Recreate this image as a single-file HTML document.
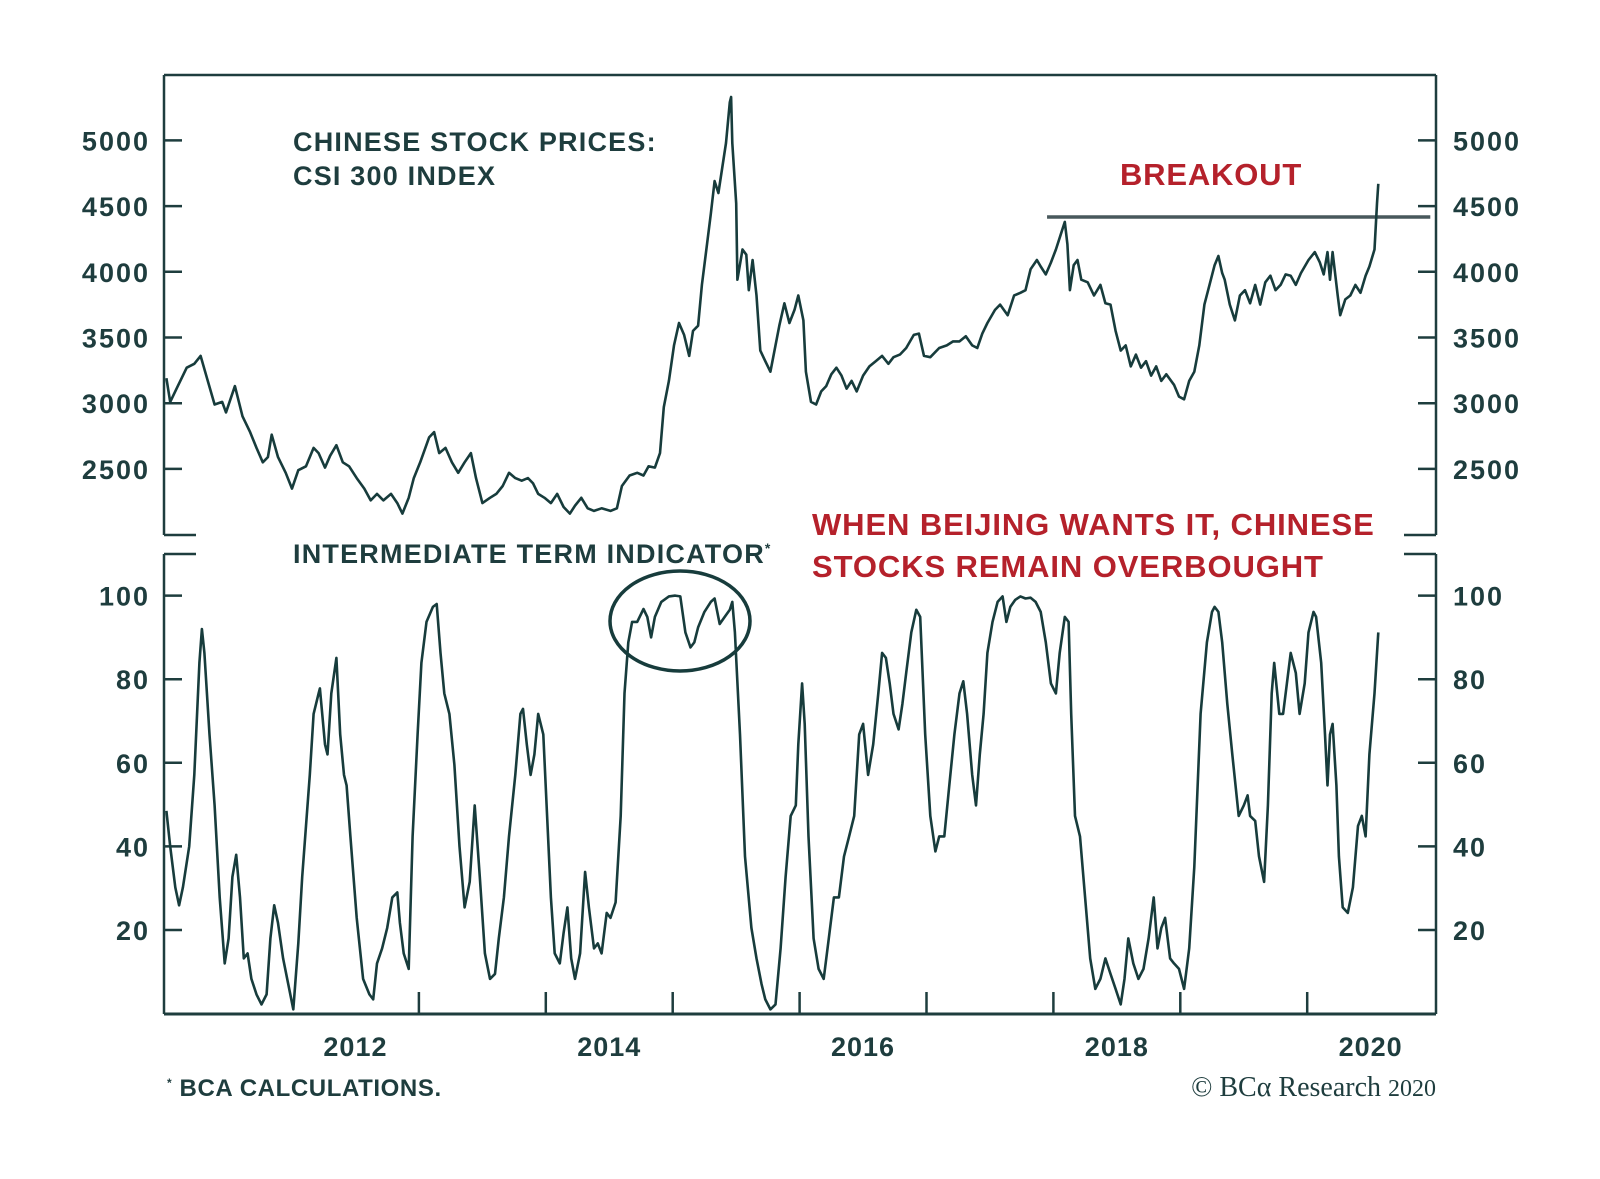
<!DOCTYPE html>
<html><head><meta charset="utf-8"><style>
html,body{margin:0;padding:0;background:#fff;}
svg{display:block;}
text{font-family:"Liberation Sans",sans-serif;}
</style></head><body>
<svg id="chart" width="1600" height="1179" viewBox="0 0 1600 1179" xmlns="http://www.w3.org/2000/svg">
<rect width="1600" height="1179" fill="#fff"/>
<g id="frame" stroke="#1e3d3e" stroke-width="2.5" fill="none">
<line x1="164" y1="75" x2="1436" y2="75"/>
<line x1="164" y1="75" x2="164" y2="535"/>
<line x1="1436" y1="75" x2="1436" y2="535"/>
<line x1="164" y1="535" x2="196" y2="535"/>
<line x1="1404" y1="535" x2="1436" y2="535"/>
<line x1="164" y1="554" x2="196" y2="554"/>
<line x1="1404" y1="554" x2="1436" y2="554"/>
<line x1="164" y1="554" x2="164" y2="1014"/>
<line x1="1436" y1="554" x2="1436" y2="1014"/>
<line x1="164" y1="1014" x2="1436" y2="1014" stroke-width="3"/>
</g>
<g id="axes"></g>
<g id="annot">
<text x="293" y="151" font-size="27" font-weight="bold" fill="#1e3d3e" letter-spacing="1.2">CHINESE STOCK PRICES:</text>
<text x="293" y="185" font-size="27" font-weight="bold" fill="#1e3d3e" letter-spacing="1.2">CSI 300 INDEX</text>
<text x="1120" y="185" font-size="31" font-weight="bold" fill="#b5212b" letter-spacing="0.8">BREAKOUT</text>
<text x="293" y="563" font-size="27" font-weight="bold" fill="#1e3d3e" letter-spacing="1.2">INTERMEDIATE TERM INDICATOR<tspan font-size="14" dy="-10">*</tspan></text>
<text x="812" y="535" font-size="31" font-weight="bold" fill="#b5212b" letter-spacing="0.9">WHEN BEIJING WANTS IT, CHINESE</text>
<text x="812" y="577" font-size="31" font-weight="bold" fill="#b5212b" letter-spacing="0.9">STOCKS REMAIN OVERBOUGHT</text>
<text x="167" y="1096" font-size="24" font-weight="bold" fill="#1e3d3e" letter-spacing="0.6"><tspan font-size="12" dy="-9">*</tspan><tspan dy="9"> BCA CALCULATIONS.</tspan></text>
<text x="1436" y="1096" text-anchor="end" font-size="28" fill="#1e3d3e" style="font-family:'Liberation Serif',serif">© BCα Research <tspan font-size="24">2020</tspan></text>
<ellipse cx="680" cy="621" rx="70" ry="50" fill="none" stroke="#173c3c" stroke-width="3.5"/>
</g>
<g id="series"></g>
</svg>
<script>
const yearTicks=[2013,2014,2015,2016,2017,2018,2019,2020];
const yearLabels=[2012,2014,2016,2018,2020];
const priceTicks=[2500,3000,3500,4000,4500,5000];
const indTicks=[20,40,60,80,100];
const breakoutLevel=4417;
const breakoutStart=2017.95;
const breakoutEnd=2020.97;

const priceDates=[2011.01,2011.04,2011.10,2011.17,2011.23,2011.28,2011.33,2011.39,2011.45,2011.48,2011.55,2011.61,2011.67,2011.72,2011.77,2011.81,2011.84,2011.89,2011.95,2012.00,
2012.05,2012.11,2012.17,2012.21,2012.26,2012.30,2012.35,2012.40,2012.45,2012.51,2012.57,2012.62,2012.67,2012.72,2012.78,2012.83,2012.87,2012.92,2012.96,
2013.01,2013.08,2013.12,2013.16,2013.21,2013.26,2013.31,2013.36,2013.41,2013.45,2013.50,2013.56,2013.61,2013.66,2013.71,2013.76,2013.81,2013.86,2013.90,2013.94,2013.99,
2014.04,2014.09,2014.14,2014.19,2014.23,2014.28,2014.33,2014.38,2014.44,2014.51,2014.56,2014.60,2014.66,2014.72,2014.77,2014.81,2014.86,2014.90,2014.93,2014.97,
2015.01,2015.05,2015.09,2015.13,2015.16,2015.20,2015.23,2015.26,2015.30,2015.33,2015.36,2015.39,2015.42,2015.45,2015.46,2015.47,2015.50,2015.51,2015.55,2015.58,2015.60,2015.63,2015.66,2015.69,2015.73,2015.77,2015.81,2015.84,2015.88,2015.92,2015.96,2015.99,
2016.03,2016.05,2016.09,2016.13,2016.17,2016.21,2016.25,2016.29,2016.33,2016.37,2016.41,2016.45,2016.50,2016.55,2016.60,2016.65,2016.70,2016.74,2016.79,2016.84,2016.90,2016.94,2016.98,
2017.03,2017.10,2017.16,2017.21,2017.26,2017.31,2017.36,2017.40,2017.44,2017.48,2017.54,2017.58,2017.64,2017.69,2017.74,2017.78,2017.82,2017.87,2017.90,2017.94,2017.98,
2018.02,2018.06,2018.09,2018.11,2018.13,2018.16,2018.19,2018.22,2018.27,2018.32,2018.37,2018.41,2018.45,2018.49,2018.53,2018.57,2018.61,2018.65,2018.69,2018.73,2018.77,2018.81,2018.85,2018.89,2018.95,2018.99,
2019.03,2019.07,2019.11,2019.15,2019.19,2019.23,2019.27,2019.30,2019.33,2019.35,2019.39,2019.43,2019.47,2019.51,2019.55,2019.59,2019.63,2019.67,2019.71,2019.75,2019.79,2019.83,2019.87,2019.91,2019.95,
2020.01,2020.06,2020.10,2020.13,2020.16,2020.18,2020.20,2020.24,2020.26,2020.30,2020.34,2020.38,2020.42,2020.46,2020.49,2020.53,2020.55,2020.56];
const priceValues=[3190,3010,3130,3270,3300,3360,3190,2990,3010,2930,3130,2900,2780,2660,2550,2590,2760,2590,2470,2350,
2490,2520,2660,2620,2510,2600,2680,2550,2520,2430,2350,2260,2310,2260,2310,2240,2160,2280,2430,
2550,2740,2780,2620,2660,2550,2470,2550,2620,2430,2240,2280,2310,2370,2470,2430,2410,2430,2390,2310,2280,
2240,2310,2210,2160,2220,2280,2200,2180,2200,2180,2200,2370,2450,2470,2450,2520,2510,2620,2970,3170,
3440,3610,3520,3360,3550,3590,3900,4130,4440,4690,4600,4790,4980,5290,5330,4980,4520,3940,4170,4130,3860,4090,3820,3400,3320,3240,3440,3590,3760,3610,3710,3820,
3630,3240,3010,2990,3090,3130,3220,3270,3210,3110,3170,3090,3210,3280,3320,3360,3300,3350,3370,3420,3520,3530,3360,
3350,3420,3440,3470,3470,3510,3440,3420,3530,3610,3710,3750,3670,3820,3840,3860,4020,4090,4040,3980,4070,
4170,4290,4380,4210,3860,4050,4090,3940,3920,3820,3900,3760,3750,3550,3400,3440,3280,3370,3270,3320,3210,3280,3170,3220,3140,3050,
3030,3170,3240,3440,3750,3900,4050,4120,3990,3940,3750,3630,3820,3860,3760,3900,3750,3920,3970,3860,3900,3980,3970,3900,3990,
4090,4150,4070,3980,4150,3940,4150,3820,3670,3790,3820,3900,3840,3970,4040,4170,4520,4670];

const indDates=[2011.01,2011.04,2011.08,2011.11,2011.14,2011.19,2011.23,2011.27,2011.29,2011.31,2011.35,2011.39,2011.43,2011.47,2011.50,2011.53,2011.56,2011.59,2011.62,2011.65,2011.68,2011.72,2011.76,2011.80,2011.83,2011.86,2011.89,2011.93,2011.97,
2012.01,2012.05,2012.08,2012.11,2012.14,2012.17,2012.21,2012.22,2012.26,2012.28,2012.31,2012.35,2012.38,2012.41,2012.43,2012.46,2012.51,2012.56,2012.61,2012.64,2012.67,2012.71,2012.75,2012.79,2012.83,2012.85,2012.88,2012.92,2012.95,2012.99,
2013.02,2013.06,2013.11,2013.14,2013.17,2013.20,2013.24,2013.28,2013.32,2013.36,2013.40,2013.44,2013.48,2013.52,2013.56,2013.60,2013.63,2013.67,2013.71,2013.76,2013.80,2013.82,2013.85,2013.88,2013.91,2013.94,2013.98,
2014.01,2014.04,2014.07,2014.11,2014.14,2014.17,2014.20,2014.23,2014.27,2014.31,2014.34,2014.38,2014.41,2014.44,2014.48,2014.51,2014.55,2014.59,2014.62,2014.65,2014.68,2014.72,2014.77,2014.80,2014.83,2014.86,2014.91,2014.97,
2015.02,2015.06,2015.10,2015.14,2015.17,2015.20,2015.25,2015.30,2015.33,2015.37,2015.41,2015.45,2015.47,2015.49,2015.53,2015.57,2015.62,2015.66,2015.70,2015.73,2015.77,2015.81,2015.85,2015.89,2015.93,2015.97,2015.99,
2016.02,2016.04,2016.07,2016.11,2016.15,2016.19,2016.23,2016.27,2016.31,2016.35,2016.39,2016.43,2016.47,2016.50,2016.54,2016.58,2016.62,2016.65,2016.68,2016.71,2016.74,2016.78,2016.81,2016.84,2016.88,2016.92,2016.95,2016.99,
2017.03,2017.07,2017.10,2017.14,2017.18,2017.22,2017.26,2017.29,2017.32,2017.36,2017.39,2017.42,2017.45,2017.48,2017.52,2017.56,2017.60,2017.63,2017.66,2017.70,2017.74,2017.78,2017.82,2017.86,2017.90,2017.94,2017.98,
2018.02,2018.05,2018.09,2018.12,2018.14,2018.17,2018.21,2018.25,2018.29,2018.33,2018.37,2018.41,2018.45,2018.49,2018.53,2018.56,2018.59,2018.63,2018.67,2018.71,2018.75,2018.79,2018.82,2018.85,2018.88,2018.92,2018.95,2018.99,
2019.03,2019.07,2019.11,2019.16,2019.21,2019.25,2019.27,2019.30,2019.33,2019.37,2019.41,2019.46,2019.50,2019.53,2019.55,2019.59,2019.62,2019.66,2019.69,2019.72,2019.74,2019.78,2019.81,2019.84,2019.87,2019.91,2019.94,2019.98,
2020.01,2020.05,2020.07,2020.11,2020.14,2020.16,2020.18,2020.20,2020.23,2020.25,2020.28,2020.32,2020.36,2020.40,2020.43,2020.46,2020.49,2020.53,2020.56];
const indValues=[48.5,40,30.2,25.9,30.2,40,57.1,83.9,92,86.3,66.8,49.8,27.8,12,18,32.7,38,27.8,13.2,14.4,8.3,4.6,2.2,4.6,18,25.9,21.7,13.2,7.1,
1,16.8,32.7,44.9,57.1,71.7,76.6,77.8,64.4,62,76.6,85.1,66.8,57.1,54.6,42.4,22.9,8.3,4.6,3.4,12,15.6,20.5,27.8,29,21.7,14.4,10.7,42.4,66.8,
83.9,93.7,97.3,98,86.3,76.6,71.7,59.5,40,25.4,31.5,49.8,32.7,14.4,8.3,9.5,18,27.8,42.4,57.1,71.7,72.9,64.4,57.1,62,71.7,66.8,
47.3,27.8,14.4,12,19.3,25.4,13.2,8.3,14.4,33.9,25.4,15.6,16.8,14.4,24.1,22.9,26.6,47.3,76.6,88.8,93.7,93.7,96.8,94.9,90,94.9,98.5,99.8,
100,99.8,91.2,87.6,88.8,92.4,96.1,98.5,99.3,93.2,94.9,96.6,98.5,91.2,66.8,37.6,20.5,13.2,7.1,3.4,1,2.2,15.6,32.7,47.3,49.8,64.4,
79,69.3,42.4,18,10.7,8.3,18,27.8,27.8,37.6,42.4,47.3,66.8,69.3,57.1,64.4,76.6,86.3,85.1,79,71.7,68,74.1,81.5,91.2,96.6,94.9,66.8,
47.3,38.8,42.4,42.4,54.6,66.8,76.6,79.5,71.7,57.1,49.8,62,71.7,86.3,93.7,98.5,99.8,93.7,97.3,99,99.8,99.3,99.5,98.5,96.1,88.8,79,
76.6,86.3,94.9,93.7,71.7,47.3,42.4,27.8,13.2,5.9,8.3,13.2,9.5,5.9,2.2,8.3,18,12,8.3,10.7,18,27.8,15.6,20.5,22.9,13.2,12,10.7,
5.9,15.6,35.1,71.7,88.8,96.1,97.3,96.1,88.8,74.1,62,47.3,49.8,52.2,47.3,46.1,37.6,31.5,49.8,76.6,83.9,71.7,71.7,79,86.3,81.5,71.7,79,
91.2,96.1,94.9,83.9,66.8,54.6,66.8,69.3,54.6,37.6,25.4,24.1,30.2,44.9,47.3,42.4,62,76.6,91.2];

const NS='http://www.w3.org/2000/svg';
const xScale=y=>292+(y-2012)*126.9;
const yTop=v=>140.4+(5000-v)*0.1314;
const yBot=v=>1013.6-v*4.18;
const axes=document.getElementById('axes');
const series=document.getElementById('series');
const INK='#1e3d3e';
function mk(tag,attrs,parent){const e=document.createElementNS(NS,tag);for(const k in attrs)e.setAttribute(k,attrs[k]);parent.appendChild(e);return e;}

priceTicks.forEach(v=>{
  const y=yTop(v);
  const t1=mk('line',{x1:164,x2:182,y1:y,y2:y,stroke:INK,'stroke-width':2.5},axes);
  
  
  const t2=mk('line',{x1:1418,x2:1436,y1:y,y2:y,stroke:INK,'stroke-width':2.5},axes);
  
  
  const l1=mk('text',{x:150,y:y+10,'text-anchor':'end','font-size':27,'font-weight':'bold','letter-spacing':2,fill:INK},axes);
  l1.textContent=v;
  
  
  const l2=mk('text',{x:1453,y:y+10,'font-size':27,'font-weight':'bold','letter-spacing':2,fill:INK},axes);
  l2.textContent=v;
  
  
});
indTicks.forEach(v=>{
  const y=yBot(v);
  const t1=mk('line',{x1:164,x2:182,y1:y,y2:y,stroke:INK,'stroke-width':2.5},axes);
  
  
  const t2=mk('line',{x1:1418,x2:1436,y1:y,y2:y,stroke:INK,'stroke-width':2.5},axes);
  
  
  const l1=mk('text',{x:150,y:y+10,'text-anchor':'end','font-size':27,'font-weight':'bold','letter-spacing':2,fill:INK},axes);
  l1.textContent=v;
  
  
  const l2=mk('text',{x:1453,y:y+10,'font-size':27,'font-weight':'bold','letter-spacing':2,fill:INK},axes);
  l2.textContent=v;
  
  
});
yearTicks.forEach(yr=>{
  const x=xScale(yr);
  const t=mk('line',{x1:x,x2:x,y1:992,y2:1014,stroke:INK,'stroke-width':2.5},axes);
  
  
});
yearLabels.forEach(yr=>{
  const l=mk('text',{x:xScale(yr+0.5),y:1056,'text-anchor':'middle','font-size':27,'font-weight':'bold','letter-spacing':1,fill:INK},axes);
  l.textContent=yr;
  
  
});

const bl=mk('line',{x1:xScale(breakoutStart),x2:xScale(breakoutEnd),y1:yTop(breakoutLevel),y2:yTop(breakoutLevel),stroke:'#48585c','stroke-width':3.5},series);



const pp=mk('polyline',{points:priceDates.map((d,i)=>xScale(d).toFixed(1)+','+yTop(priceValues[i]).toFixed(1)).join(' '),fill:'none',stroke:'#173c3c','stroke-width':2.6,'stroke-linejoin':'round'},series);



const ip=mk('polyline',{points:indDates.map((d,i)=>xScale(d).toFixed(1)+','+yBot(indValues[i]).toFixed(1)).join(' '),fill:'none',stroke:'#173c3c','stroke-width':2.6,'stroke-linejoin':'round'},series);


</script>
</body></html>
